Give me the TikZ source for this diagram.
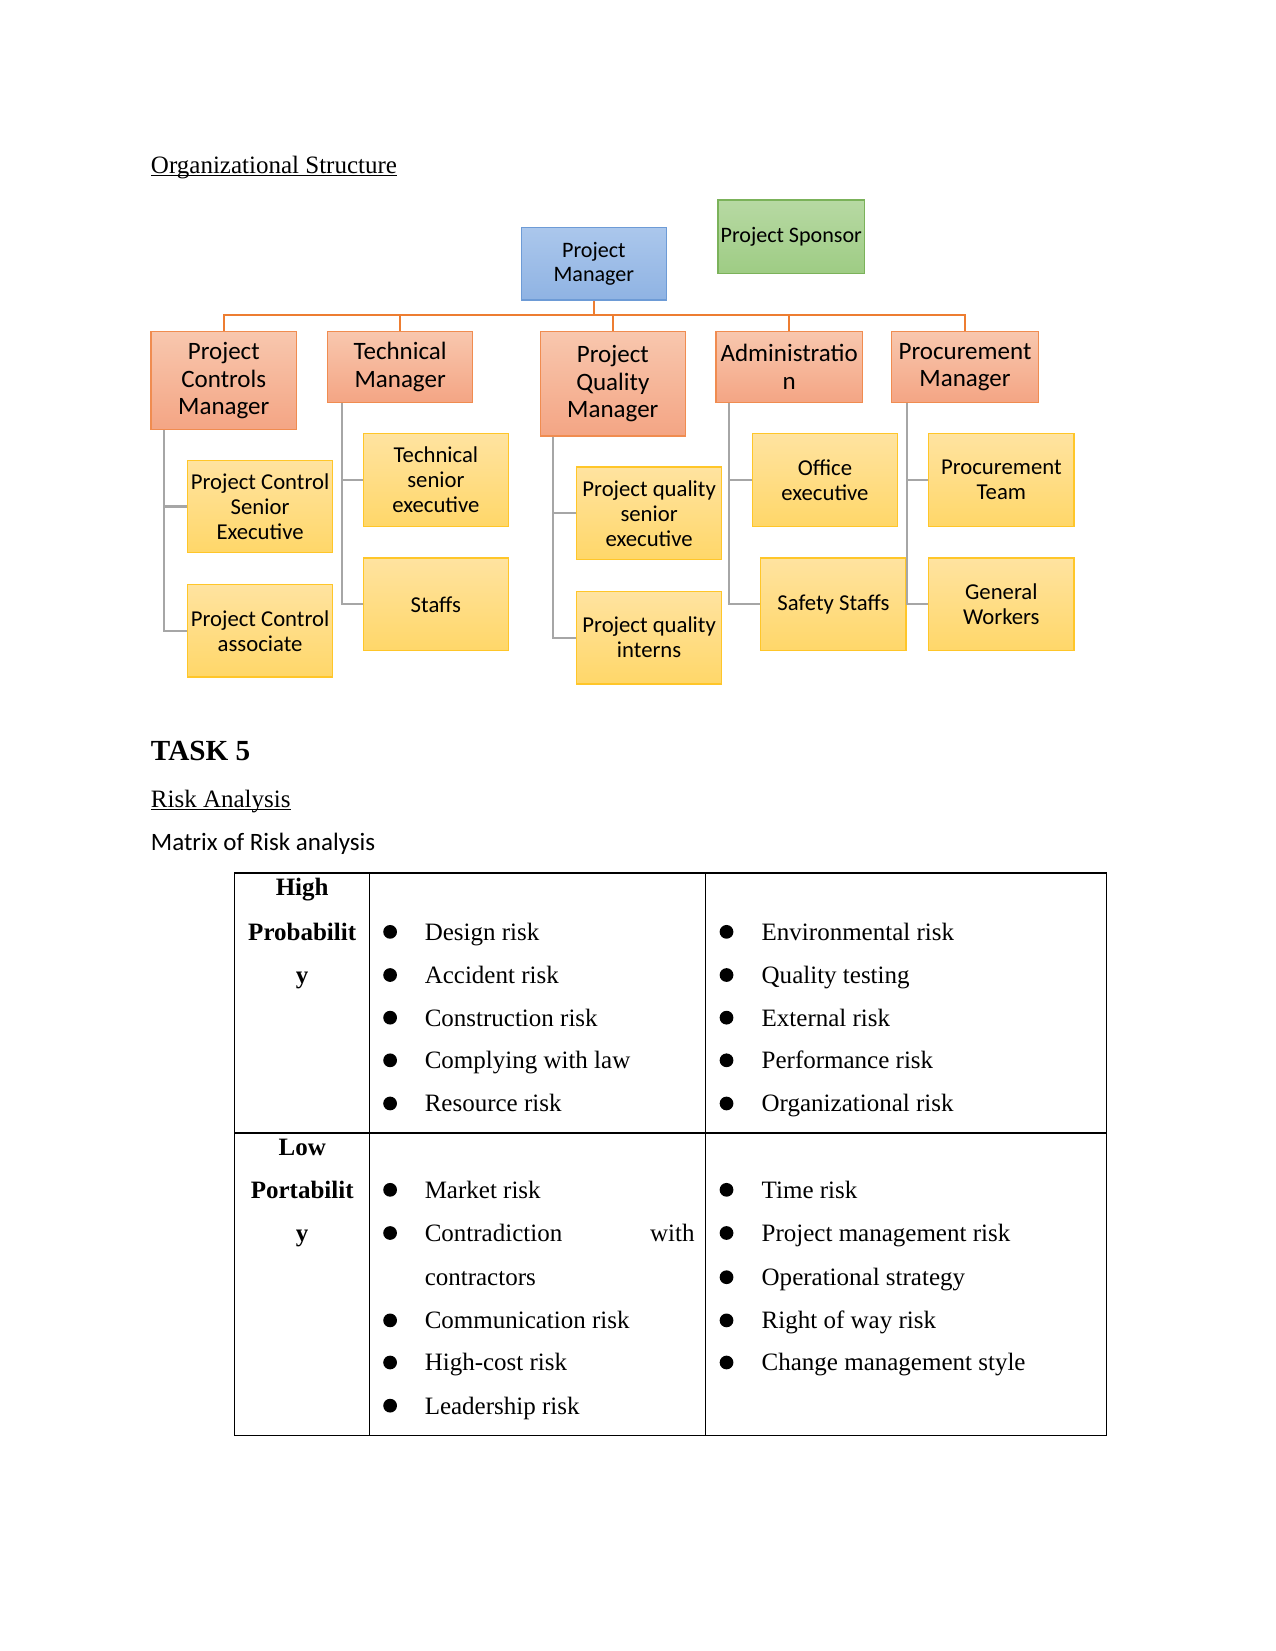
\documentclass[tikz,border=0pt]{standalone}
\usepackage{fontspec}
\setmainfont{Liberation Serif}
\newfontfamily\calibri{Carlito}
\newdimen\pxu
\pxu=0.50537pt
\newcommand\ulword[1]{\setbox0\hbox{#1}\rlap{\rule[-1.3pt]{\wd0}{0.55pt}}\box0}
\definecolor{mgrline}{HTML}{F08C50}
\definecolor{mgrtop}{HTML}{F8C7AE}
\definecolor{mgrbot}{HTML}{F4A584}
\definecolor{stafline}{HTML}{FFC629}
\definecolor{staftop}{HTML}{FFE3A0}
\definecolor{stafbot}{HTML}{FFD769}
\definecolor{pmline}{HTML}{6D9BD6}
\definecolor{pmtop}{HTML}{ABC7EC}
\definecolor{pmbot}{HTML}{8FB3E3}
\definecolor{spline}{HTML}{7BB25A}
\definecolor{sptop}{HTML}{B7D9A3}
\definecolor{spbot}{HTML}{9ECC84}
\definecolor{busorange}{HTML}{ED7D31}
\definecolor{linkgray}{HTML}{A6A6A6}

\begin{document}
\begin{tikzpicture}[x=0.50537pt, y=-0.50537pt,
  head/.style={anchor=base west, inner sep=0pt, font=\fontsize{12}{14}\selectfont},
  topbox/.style={draw=#1line, top color=#1top, bottom color=#1bot, line width=0.6pt, align=center, inner sep=0pt, minimum width=138\pxu, font=\calibri\fontsize{10.6}{11.4}\selectfont},
  mgr/.style={draw=mgrline, top color=mgrtop, bottom color=mgrbot, line width=0.6pt, align=center, inner sep=0pt, minimum width=138\pxu, minimum height=67\pxu, font=\calibri\fontsize{12}{13.1}\selectfont},
  staf/.style={draw=stafline, top color=staftop, bottom color=stafbot, line width=0.6pt, align=center, inner sep=0pt, minimum width=138\pxu, minimum height=88\pxu, font=\calibri\fontsize{10.9}{12}\selectfont},
  bus/.style={draw=busorange, line width=1.2pt},
  link/.style={draw=linkgray, line width=1pt},
  cell/.style={anchor=base west, inner sep=0pt, font=\fontsize{12}{14}\selectfont},
  rowhead/.style={anchor=base, inner sep=0pt, font=\bfseries\fontsize{12}{14}\selectfont},
  rule/.style={line width=0.6pt}]
\useasboundingbox (0,0) rectangle (1211,1568);

\node[head] (orgtitle) at (143,164.6) {\ulword{Organizational Structure}};

\node[topbox=pm, minimum height=69\pxu] (pm) at (564,250.5) {Project\\Manager};
\node[topbox=sp, minimum width=139\pxu, minimum height=70\pxu] (sponsor) at (751.5,225) {Project Sponsor};

\node[mgr, minimum height=93\pxu] (pcm) at (212.5,361.5) {Project\\Controls\\Manager};
\node[mgr] (tm) at (380,348.5) {Technical\\Manager};
\node[mgr, minimum height=99\pxu] (pqm) at (582,364.5) {Project\\Quality\\Manager};
\node[mgr, minimum width=139\pxu] (adm) at (749.5,348.5) {Administratio\\n};
\node[mgr, minimum width=139\pxu] (prm) at (916.5,348.5) {Procurement\\Manager};

\node[staf] (pcse) at (247,481) {Project Control\\Senior\\Executive};
\node[staf] (pca) at (247,599) {Project Control\\associate};
\node[staf] (tse) at (414,456) {Technical\\senior\\executive};
\node[staf] (staffs) at (414,574) {Staffs};
\node[staf] (pqse) at (616.5,487.5) {Project quality\\senior\\executive};
\node[staf] (pqi) at (616.5,605.5) {Project quality\\interns};
\node[staf] (oe) at (783.5,456) {Office\\executive};
\node[staf] (ss) at (791.5,574) {Safety Staffs};
\node[staf] (pt) at (951,456) {Procurement\\Team};
\node[staf] (gw) at (951,574) {General\\Workers};

\coordinate (busmid) at (564,299);
\draw[bus] (pm.south) -- (busmid);
\draw[bus] (busmid) -| (pcm.north);
\draw[bus] (busmid) -| (tm.north);
\draw[bus] (busmid) -| (pqm.north);
\draw[bus] (busmid) -| (adm.north);
\draw[bus] (busmid) -| (prm.north);

\draw[link] ([xshift=13\pxu]pcm.south west) |- (pcse.west);
\draw[link] ([xshift=13\pxu]pcm.south west) |- (pca.west);
\draw[link] ([xshift=14\pxu]tm.south west) |- (tse.west);
\draw[link] ([xshift=14\pxu]tm.south west) |- (staffs.west);
\draw[link] ([xshift=13\pxu]pqm.south west) |- (pqse.west);
\draw[link] ([xshift=13\pxu]pqm.south west) |- (pqi.west);
\draw[link] ([xshift=13\pxu]adm.south west) |- (oe.west);
\draw[link] ([xshift=13\pxu]adm.south west) |- (ss.west);
\draw[link] ([xshift=15\pxu]prm.south west) |- (pt.west);
\draw[link] ([xshift=15\pxu]prm.south west) |- (gw.west);

\node[head, font=\bfseries\fontsize{14}{16}\selectfont] (task) at (143,722) {TASK 5};
\node[head] (risktitle) at (143,766.5) {\ulword{Risk Analysis}};
\node[head, font=\calibri\fontsize{12}{14}\selectfont] (matrix) at (143,807.5) {Matrix of Risk analysis};

\draw[rule] (223,829) rectangle (1051,1363);
\draw[rule] (223,1076) -- (1051,1076);
\draw[rule] (351,829) -- (351,1363);
\draw[rule] (670,829) -- (670,1363);

\node[rowhead] (high) at (287,850) {High};
\node[rowhead] (highb) at (287,893) {Probabilit};
\node[rowhead] (highc) at (287,934) {y};
\node[rowhead] (low) at (287,1097) {Low};
\node[rowhead] (lowb) at (287,1138) {Portabilit};
\node[rowhead] (lowc) at (287,1179) {y};

\foreach \y in {893,934,974.5,1015,1056,1138,1179,1262,1302,1343}
  \fill (370.5,\y-8) circle (3.3pt);
\foreach \y in {893,934,974.5,1015,1056,1138,1179,1221,1262,1302}
  \fill (690,\y-8) circle (3.3pt);

\node[cell] (design) at (403,893) {Design risk};
\node[cell] (accident) at (403,934) {Accident risk};
\node[cell] (construct) at (403,974.5) {Construction risk};
\node[cell] (law) at (403,1015) {Complying with law};
\node[cell] (resource) at (403,1056) {Resource risk};
\node[cell] (environ) at (723,893) {Environmental risk};
\node[cell] (quality) at (723,934) {Quality testing};
\node[cell] (external) at (723,974.5) {External risk};
\node[cell] (perform) at (723,1015) {Performance risk};
\node[cell] (organ) at (723,1056) {Organizational risk};

\node[cell] (market) at (403,1138) {Market risk};
\node[cell] (contra) at (403,1179) {Contradiction};
\node[cell, anchor=base east] (contrawith) at (660,1179) {with};
\node[cell] (contrb) at (403,1221) {contractors};
\node[cell] (commun) at (403,1262) {Communication risk};
\node[cell] (highcost) at (403,1302) {High-cost risk};
\node[cell] (leader) at (403,1343) {Leadership risk};
\node[cell] (timerisk) at (723,1138) {Time risk};
\node[cell] (pmrisk) at (723,1179) {Project management risk};
\node[cell] (operat) at (723,1221) {Operational strategy};
\node[cell] (rightway) at (723,1262) {Right of way risk};
\node[cell] (change) at (723,1302) {Change management style};
\end{tikzpicture}
\end{document}
